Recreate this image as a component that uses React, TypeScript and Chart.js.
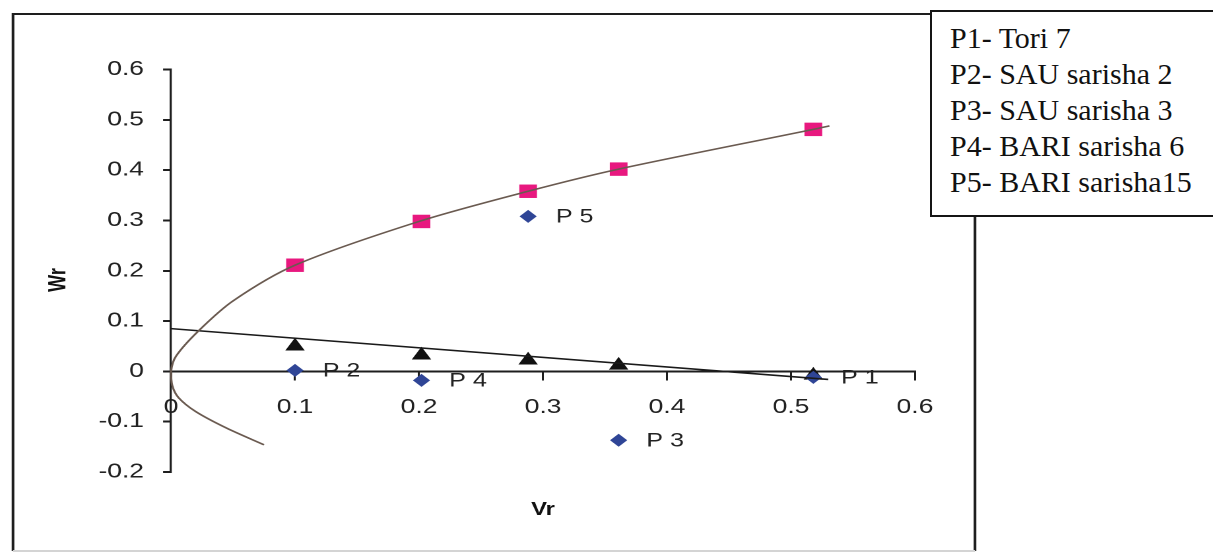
import React, { useEffect, useRef } from 'react';
import { Chart, registerables } from 'chart.js';

Chart.register(...registerables);

// ---- data ----
const pointLabels = ['P 1', 'P 2', 'P 3', 'P 4', 'P 5'];
const vr = [0.518, 0.1, 0.361, 0.202, 0.288];
const wr = [-0.012, 0.002, -0.137, -0.018, 0.308];
const wrParabola = [0.481, 0.211, 0.402, 0.298, 0.358];
const wrRegression = [-0.008, 0.05, 0.012, 0.032, 0.022];

const regLineVr = [0, 0.53];
const regLineWr = [0.085, -0.016];

const curveVr = [0.075, 0.045, 0.02, 0.006, 0.001, 0.0, 0.004, 0.022, 0.05, 0.1, 0.2, 0.288, 0.361, 0.518, 0.531];
const curveWr = [-0.146, -0.113, -0.08, -0.052, -0.028, 0.0, 0.03, 0.08, 0.14, 0.211, 0.298, 0.358, 0.402, 0.481, 0.488];

const xTicks = [0, 0.1, 0.2, 0.3, 0.4, 0.5, 0.6];
const xTickLabels = ['0', '0.1', '0.2', '0.3', '0.4', '0.5', '0.6'];
const yTicks = [-0.2, -0.1, 0, 0.1, 0.2, 0.3, 0.4, 0.5, 0.6];
const yTickLabels = ['-0.2', '-0.1', '0', '0.1', '0.2', '0.3', '0.4', '0.5', '0.6'];

const legendLines = [
  'P1- Tori 7',
  'P2- SAU sarisha 2',
  'P3- SAU sarisha 3',
  'P4- BARI sarisha 6',
  'P5- BARI sarisha15',
];

// ---- layout (the chart picture is stretched horizontally) ----
const S = 1.32;
const CW = 919;
const CH = 554;
const FRAME_L = 13 / S;
const FRAME_R = 975 / S;
const FRAME_T = 14;
const FRAME_B = 551;
const AXIS_LEFT = 171 / S;
const AXIS_RIGHT = 915 / S;

const decor = {
  id: 'decor',
  beforeDraw(chart: any) {
    const ctx = chart.ctx;
    ctx.save();
    ctx.fillStyle = '#ffffff';
    ctx.fillRect(0, 0, chart.width, chart.height);
    ctx.strokeStyle = '#1e1e1e';
    ctx.lineWidth = 2;
    ctx.beginPath();
    ctx.moveTo(FRAME_L, FRAME_B);
    ctx.lineTo(FRAME_L, FRAME_T);
    ctx.lineTo(FRAME_R, FRAME_T);
    ctx.lineTo(FRAME_R, FRAME_B);
    ctx.stroke();
    ctx.strokeStyle = '#d4d4d4';
    ctx.beginPath();
    ctx.moveTo(FRAME_L, FRAME_B);
    ctx.lineTo(FRAME_R, FRAME_B);
    ctx.stroke();
    ctx.restore();
  },
  afterDraw(chart: any) {
    const ctx = chart.ctx;
    ctx.save();
    // point labels next to the Wr diamonds
    const meta = chart.getDatasetMeta(2);
    ctx.fillStyle = '#222';
    ctx.font = '19px "Liberation Sans", Arial, sans-serif';
    ctx.textAlign = 'left';
    ctx.textBaseline = 'middle';
    meta.data.forEach((pt: any, i: number) => {
      ctx.fillText(pointLabels[i], pt.x + 21, pt.y + 1);
    });
    // axis titles
    ctx.fillStyle = '#111';
    ctx.font = 'bold 18px "Liberation Sans", Arial, sans-serif';
    ctx.textAlign = 'center';
    ctx.fillText('Vr', 543 / S, 510);
    ctx.translate(59 / S, 280);
    ctx.rotate(-Math.PI / 2);
    ctx.fillText('Wr', 0, 0);
    ctx.restore();
  },
};

export default function App() {
  const ref = useRef<HTMLCanvasElement | null>(null);

  useEffect(() => {
    if (!ref.current) return;
    const chart = new Chart(ref.current, {
      type: 'scatter',
      data: {
        datasets: [
          {
            label: 'Parabola',
            data: curveVr.map((x, i) => ({ x, y: curveWr[i] })),
            showLine: true,
            borderColor: '#6a5a50',
            borderWidth: 1.6,
            pointRadius: 0,
            tension: 0.3,
            clip: false,
          } as any,
          {
            label: 'Regression',
            data: regLineVr.map((x, i) => ({ x, y: regLineWr[i] })),
            showLine: true,
            borderColor: '#1a1a1a',
            borderWidth: 1.6,
            pointRadius: 0,
            clip: false,
          } as any,
          {
            label: 'Wr',
            data: vr.map((x, i) => ({ x, y: wr[i] })),
            pointStyle: 'rectRot',
            pointRadius: 6.5,
            backgroundColor: '#2f4596',
            borderColor: '#2f4596',
            borderWidth: 0,
            clip: false,
          } as any,
          {
            label: "Wr'",
            data: vr.map((x, i) => ({ x, y: wrParabola[i] })),
            pointStyle: 'rect',
            pointRadius: 9.5,
            backgroundColor: '#e8187f',
            borderColor: '#e8187f',
            borderWidth: 0,
            clip: false,
          } as any,
          {
            label: 'Wre',
            data: vr.map((x, i) => ({ x, y: wrRegression[i] })),
            pointStyle: 'triangle',
            pointRadius: 8.5,
            backgroundColor: '#111111',
            borderColor: '#111111',
            borderWidth: 0,
            clip: false,
          } as any,
        ],
      },
      options: {
        animation: false,
        responsive: false,
        devicePixelRatio: 2,
        layout: {
          padding: { left: 0, right: CW - AXIS_RIGHT, top: 69.5, bottom: CH - 472 },
        },
        plugins: {
          legend: { display: false },
          tooltip: { enabled: false },
        },
        scales: {
          x: {
            type: 'linear',
            position: { y: 0 } as any,
            min: 0,
            max: 0.6,
            afterBuildTicks: (s: any) => {
              s.ticks = xTicks.map((v) => ({ value: v }));
            },
            ticks: {
              callback: (_v: any, i: number) => xTickLabels[i],
              font: { family: '"Liberation Sans", Arial, sans-serif', size: 20 },
              color: '#222',
              padding: 16,
              maxRotation: 0,
              autoSkip: false,
            },
            grid: {
              drawOnChartArea: false,
              drawTicks: true,
              tickLength: 8,
              color: '#1e1e1e',
              lineWidth: 1.5,
            },
            border: { display: true, color: '#1e1e1e', width: 2 },
            title: { display: false },
          },
          y: {
            type: 'linear',
            position: 'left',
            min: -0.2,
            max: 0.6,
            afterFit: (s: any) => {
              s.width = AXIS_LEFT;
            },
            afterBuildTicks: (s: any) => {
              s.ticks = yTicks.map((v) => ({ value: v }));
            },
            ticks: {
              callback: (_v: any, i: number) => yTickLabels[i],
              font: { family: '"Liberation Sans", Arial, sans-serif', size: 20 },
              color: '#222',
              padding: 14.5,
              autoSkip: false,
            },
            grid: {
              drawOnChartArea: false,
              drawTicks: true,
              tickLength: 6,
              color: '#1e1e1e',
              lineWidth: 2,
            },
            border: { display: true, color: '#1e1e1e', width: 1.6 },
            title: { display: false },
          },
        },
      },
      plugins: [decor],
    });
    return () => chart.destroy();
  }, []);

  return (
    <div
      style={{
        position: 'fixed',
        left: 0,
        top: 0,
        width: 1213,
        height: 554,
        overflow: 'hidden',
        background: '#ffffff',
      }}
    >
      <div
        style={{
          position: 'absolute',
          left: 0,
          top: 0,
          width: CW,
          height: CH,
          transform: `scaleX(${S})`,
          transformOrigin: '0 0',
        }}
      >
        <canvas ref={ref} width={CW} height={CH} />
      </div>
      <div
        style={{
          position: 'absolute',
          left: 930,
          top: 10,
          width: 300,
          height: 207,
          boxSizing: 'border-box',
          border: '2px solid #151515',
          background: '#ffffff',
          paddingLeft: 18,
          paddingTop: 8,
          fontFamily: '"Liberation Serif", "Times New Roman", serif',
          fontSize: 30,
          lineHeight: '36px',
          color: '#111',
          whiteSpace: 'nowrap',
        }}
      >
        {legendLines.map((t) => (
          <div key={t}>{t}</div>
        ))}
      </div>
    </div>
  );
}
